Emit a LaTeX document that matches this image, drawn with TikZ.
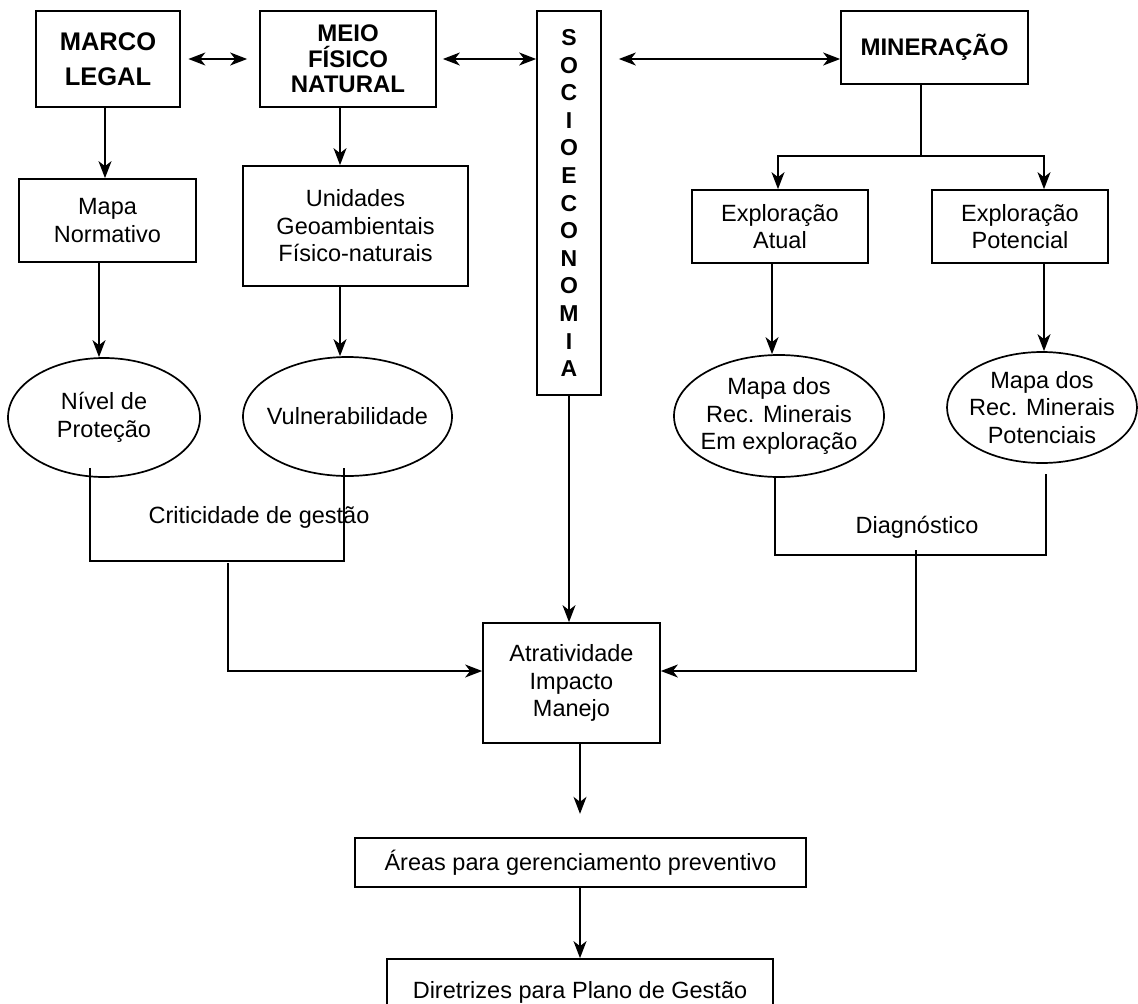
\documentclass[tikz,border=0pt]{standalone}
\usepackage{fontspec}
\setmainfont{Liberation Sans}
\usetikzlibrary{arrows.meta,shapes.geometric}

\newcommand{\txt}{\fontsize{23.5}{27.5}\selectfont}
\newcommand{\tit}{\fontsize{24}{25.5}\selectfont\bfseries}

\tikzset{
  caixa/.style={draw, align=center, inner sep=0pt, font=\txt},
  oval/.style={caixa, ellipse, inner xsep=-25pt, inner ysep=-15pt},
}

\begin{document}
\begin{tikzpicture}[x=1pt, y=-1pt, line width=1.7pt,
    >={Stealth[length=17pt,width=13pt,inset=5pt]}]
    \useasboundingbox (0,0) rectangle (1138,1004);
    \clip (0,0) rectangle (1138,1004);

    % linha de cima
    \node[caixa, minimum width=144pt, minimum height=96pt,
      font=\fontsize{25.5}{35}\selectfont\bfseries] (marco) at (108,59) {MARCO\\LEGAL};
    \node[caixa, minimum width=176pt, minimum height=96pt, font=\tit] (meio) at (348,59) {MEIO\\FÍSICO\\NATURAL};
    \node[caixa, minimum width=64pt, minimum height=384pt,
      font=\fontsize{23}{27.6}\selectfont\bfseries] (socio) at (569,203)
      {S\\O\\C\\I\\O\\E\\C\\O\\N\\O\\M\\I\\A};
    \node[caixa, minimum width=187pt, minimum height=73pt, font=\tit] (miner) at (934.5,47.5) {MINERAÇÃO};

    \node[caixa, minimum width=177pt, minimum height=83pt] (mapa) at (107.5,220.5) {Mapa\\Normativo};
    \node[caixa, minimum width=225pt, minimum height=120pt] (unid) at (355.5,226) {Unidades\\Geoambientais\\Físico-naturais};
    \node[caixa, minimum width=176pt, minimum height=73pt] (atual) at (780,226.5) {Exploração\\Atual};
    \node[caixa, minimum width=176pt, minimum height=73pt] (poten) at (1020,226.5) {Exploração\\Potencial};

    \node[oval, minimum width=192pt, minimum height=119pt] (nivel) at (104,417.5) {Nível de\\Proteção};
    \node[oval, minimum width=209pt, minimum height=119pt] (vuln) at (347.5,416.5) {Vulnerabilidade};
    \node[oval, minimum width=210pt, minimum height=122pt] (recexp) at (779,416) {Mapa dos\\Rec. Minerais\\Em exploração};
    \node[oval, minimum width=190pt, minimum height=111pt] (recpot) at (1042,407.5) {Mapa dos\\Rec. Minerais\\Potenciais};

    \node[font=\txt] (crit) at (259,517) {Criticidade de gestão};
    \node[font=\txt] (diag) at (917,527) {Diagnóstico};

    \node[caixa, minimum width=177pt, minimum height=120pt] (atrat) at (571.5,683) {Atratividade\\Impacto\\Manejo};
    \node[caixa, minimum width=451pt, minimum height=49pt] (areas) at (580.5,862.5) {Áreas para gerenciamento preventivo};
    \node[caixa, minimum width=386pt, minimum height=66pt] (diret) at (580,992) {Diretrizes para Plano de Gestão};

    % setas duplas
    \draw[<->, shorten <=7.5pt, shorten >=12pt] (marco) -- (meio);
    \draw[<->, shorten <=6pt] (meio.east) -- (meio.east -| socio.west);
    \draw[<->, shorten <=17pt] (socio.east |- meio.east) -- (meio.east -| miner.west);

    \draw[->] ([xshift=-3pt]marco.south) -- ([xshift=-3pt]marco.south |- mapa.north);
    \draw[->] ([xshift=-8pt]meio.south) -- ([xshift=-8pt]meio.south |- unid.north);
    \draw[->] ([xshift=-8.5pt]mapa.south) -- ([xshift=-8.5pt]mapa.south |- nivel.north);
    \draw[->] ([xshift=-15.5pt]unid.south) -- ([xshift=-15.5pt]unid.south |- vuln.north);

    \draw ([xshift=-13.5pt]miner.south) -- ++(0,71) coordinate (ramo);
    \draw[->] (ramo) -| ([xshift=-2pt]atual.north);
    \draw[->] (ramo) -| ([xshift=24pt]poten.north);
    \draw[->] ([xshift=-8pt]atual.south) -- ([xshift=-8pt]atual.south |- recexp.north);
    \draw[->] ([xshift=24pt]poten.south) -- ([xshift=24pt]poten.south |- recpot.north);

    \draw[->] (socio.south) -- (socio.south |- atrat.north);

    % colchetes
    \draw ([xshift=-14pt,yshift=10pt]nivel.south) -- ++(0,93) -| ([xshift=-3.5pt,yshift=9pt]vuln.south);
    \coordinate (critbase) at (228,563);
    \draw[->] (critbase) |- ([yshift=12pt]atrat.west);

    \draw ([xshift=-4pt,yshift=2pt]recexp.south) -- ++(0,79) -| ([xshift=4pt,yshift=-10pt]recpot.south);
    \coordinate (diagbase) at (916,550);
    \draw[->] (diagbase) |- ([yshift=12pt]atrat.east);

    \draw[->] ([xshift=8.5pt]atrat.south) -- ++(0,70) coordinate (fim);
    \draw[->] ([xshift=-0.5pt]areas.south) -- ([xshift=-0.5pt]areas.south |- diret.north);
\end{tikzpicture}
\end{document}
